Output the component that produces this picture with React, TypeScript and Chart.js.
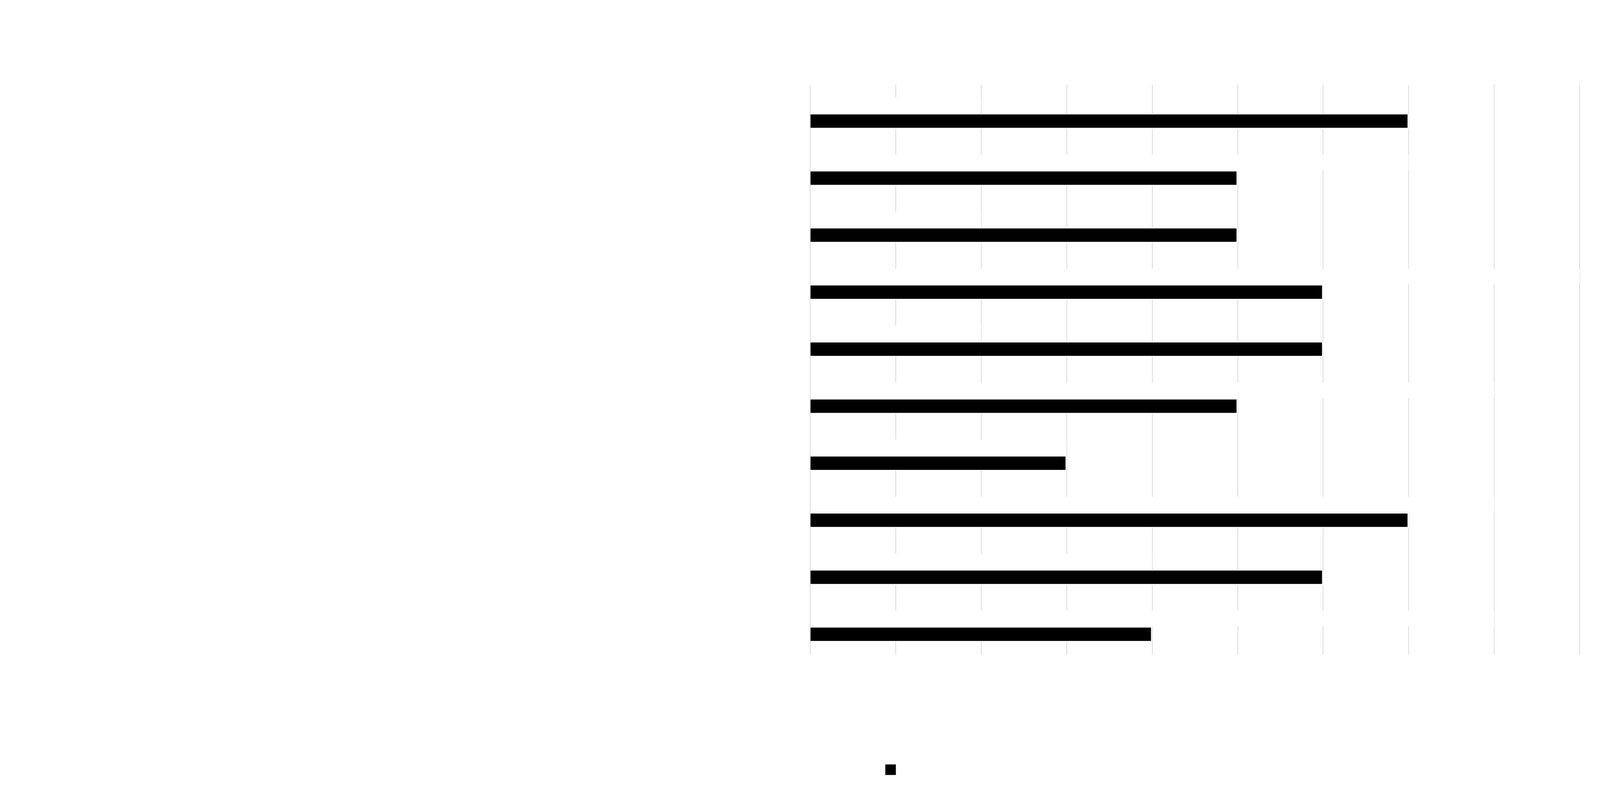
import React, { useEffect, useRef } from "react";
import { Chart, registerables } from "chart.js";

Chart.register(...registerables);

const categories = [
  "Category 1",
  "Category 2",
  "Category 3",
  "Category 4",
  "Category 5",
  "Category 6",
  "Category 7",
  "Category 8",
  "Category 9",
  "Category 10",
];
const seriesNames = ["Previous period (reference value)", "Current period"];
const previousValues = [2, 7, 2, 9, 2, 8, 3, 8, 4, 8];
const currentValues = [7, 5, 5, 6, 6, 5, 3, 7, 6, 4];
const xMin = 0;
const xMax = 10;
const xStep = 1;

export default function App() {
  const canvasRef = useRef<HTMLCanvasElement | null>(null);

  useEffect(() => {
    if (!canvasRef.current) return;
    const chart = new Chart(canvasRef.current, {
      type: "bar",
      data: {
        labels: categories,
        datasets: [
          {
            label: seriesNames[0],
            data: previousValues,
            backgroundColor: "#ffffff",
            borderColor: "#ffffff",
            borderWidth: 3,
          },
          {
            label: seriesNames[1],
            data: currentValues,
            backgroundColor: "#000000",
            borderColor: "#ffffff",
            borderWidth: 3,
          },
        ],
      },
      options: {
        indexAxis: "y",
        animation: false,
        responsive: true,
        maintainAspectRatio: false,
        datasets: {
          bar: {
            barPercentage: 1,
            categoryPercentage: 0.55,
          },
        },
        layout: {
          padding: { top: 209, bottom: 42, left: 0, right: 58 },
        },
        scales: {
          x: {
            min: xMin,
            max: xMax,
            ticks: {
              stepSize: xStep,
              color: "#ffffff",
              font: { size: 30, family: "Roboto" },
            },
            grid: {
              color: "#dcdcdc",
              lineWidth: 2,
              drawTicks: false,
            },
            border: { display: false },
            afterFit: (scale: any) => {
              scale.height = 269;
            },
          },
          y: {
            ticks: {
              color: "#ffffff",
              font: { size: 30, family: "Roboto" },
            },
            grid: { display: false },
            border: { display: false },
            afterFit: (scale: any) => {
              scale.width = 2066;
            },
          },
        },
        plugins: {
          legend: {
            position: "bottom",
            labels: {
              color: "#ffffff",
              boxWidth: 30,
              boxHeight: 30,
              font: { size: 30, family: "Roboto" },
            },
          },
          tooltip: { enabled: false },
        },
      },
    });
    return () => chart.destroy();
  }, []);

  return (
    <div style={{ width: "4313px", height: "2030px", position: "relative" }}>
      <canvas ref={canvasRef} style={{ display: "block" }} />
    </div>
  );
}
